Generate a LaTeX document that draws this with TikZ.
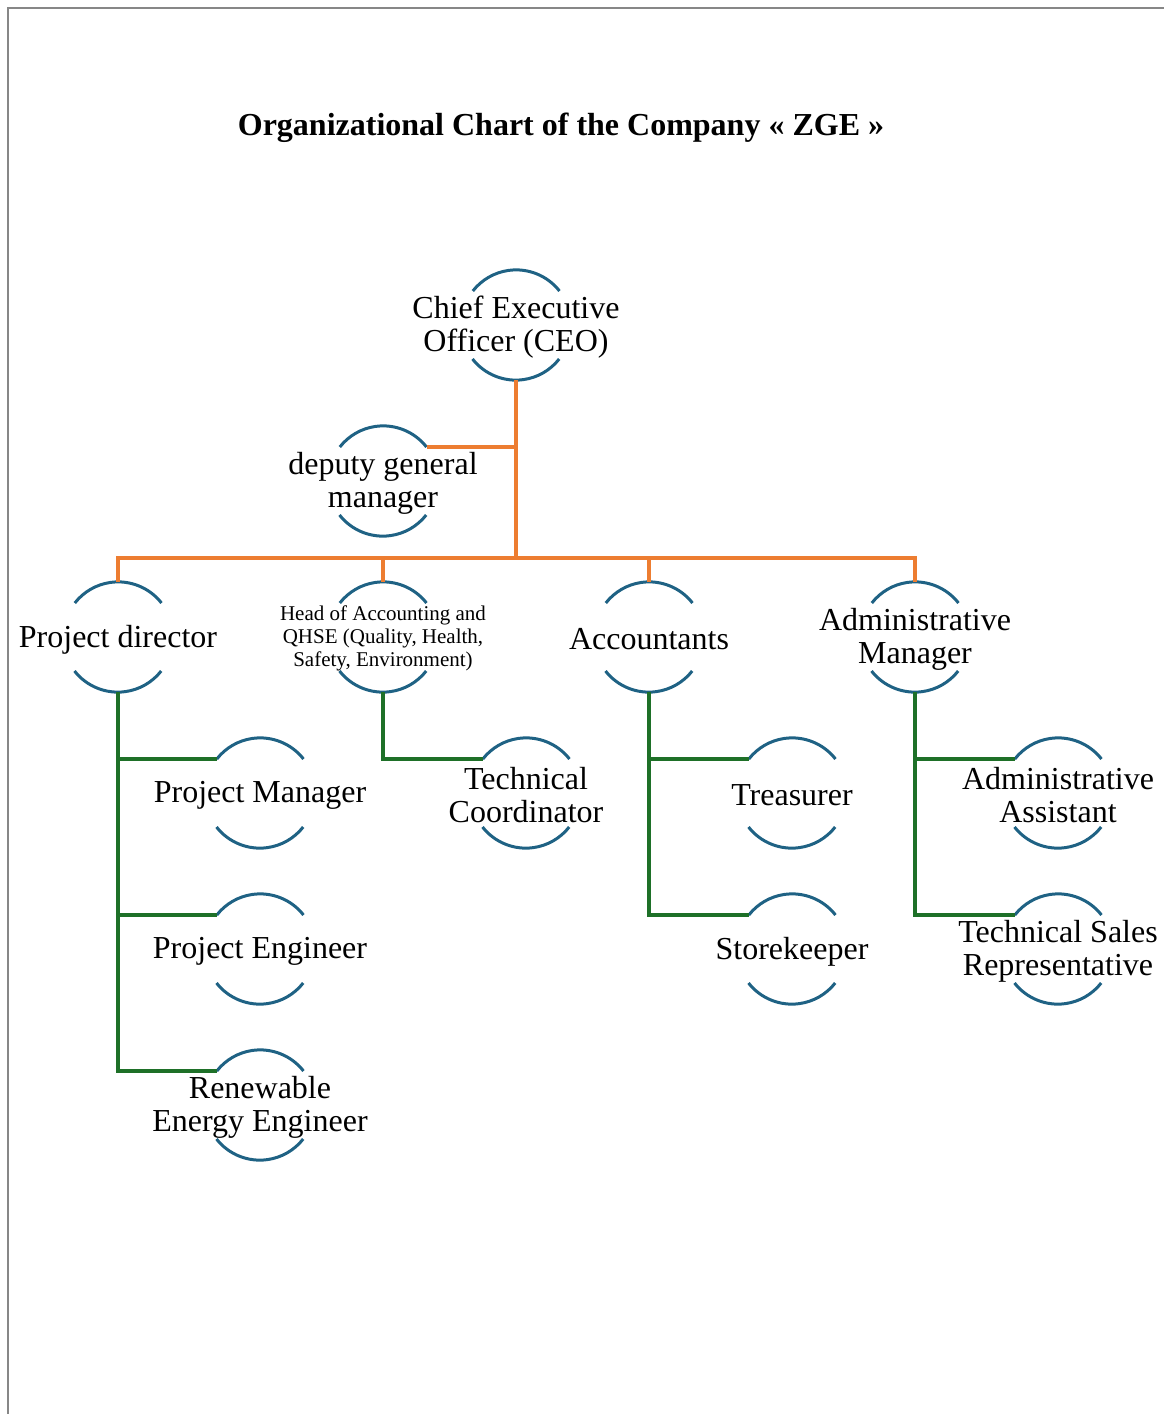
\documentclass[tikz,border=0pt]{standalone}
\usepackage{fontspec}
\setmainfont{Liberation Serif}
\definecolor{ringblue}{RGB}{31,98,132}
\definecolor{orgorange}{RGB}{237,125,49}
\definecolor{orggreen}{RGB}{30,112,40}
\definecolor{framegray}{RGB}{135,135,135}
\tikzset{
  ring/.style={circle, minimum size=110pt, inner sep=0pt},
  arcst/.style={draw=ringblue, line width=3pt},
  bigtxt/.style={align=center, inner sep=0pt, yshift=-2.5pt, font=\fontsize{32}{33}\selectfont},
  smalltxt/.style={align=center, inner sep=0pt, yshift=-1.5pt, font=\fontsize{21}{23}\selectfont},
  topline/.style={draw=orgorange, line width=3.2pt},
  subline/.style={draw=orggreen, line width=3.2pt},
}
\newcommand\orgunit[4][bigtxt]{%
  \node[ring] (#2) at (#3) {};
  \node[#1] (#2-t) at (#2) {#4};
  \draw[arcst] (#2.38) arc[start angle=38,end angle=142,radius=55pt];
  \draw[arcst] (#2.218) arc[start angle=218,end angle=322,radius=55pt];
}
\begin{document}
\begin{tikzpicture}[x=1pt,y=1pt]
\path[use as bounding box] (0,0) rectangle (1164,-1414);
\draw[framegray, line width=2pt] (7.5,-1414) -- (7.5,-7.5) -- (1164,-7.5);
\node[font=\bfseries\fontsize{32}{36}\selectfont, anchor=base] (title) at (561,-135) {Organizational Chart of the Company « ZGE »};

\coordinate (bus) at (516,-558);

\orgunit{ceo}{516,-325}{Chief Executive\\Officer (CEO)}
\orgunit{dgm}{383,-481}{deputy general\\manager}
\orgunit{pd}{118,-637}{Project director}
\orgunit[smalltxt]{hqa}{383,-637}{Head of Accounting and\\QHSE (Quality, Health,\\Safety, Environment)}
\orgunit{acc}{649,-637}{Accountants}
\orgunit{am}{915,-637}{Administrative\\Manager}
\orgunit{pm}{260,-793}{Project Manager}
\orgunit{pe}{260,-949}{Project Engineer}
\orgunit{ree}{260,-1105}{Renewable\\Energy Engineer}
\orgunit{tc}{526,-793}{Technical\\Coordinator}
\orgunit{tre}{792,-793}{Treasurer}
\orgunit{sto}{792,-949}{Storekeeper}
\orgunit{aa}{1058,-793}{Administrative\\Assistant}
\orgunit{tsr}{1058,-949}{Technical Sales\\Representative}

% orange connectors
\draw[topline] (ceo.south) -- (bus);
\draw[topline] (dgm.38) -- (dgm.38 -| ceo.south);
\draw[topline] (pd.north) -- (pd.north |- bus) -- (am.north |- bus) -- (am.north);
\draw[topline] (hqa.north) -- (hqa.north |- bus);
\draw[topline] (acc.north) -- (acc.north |- bus);

% green connectors
\draw[subline] (pd.south) |- (ree.142);
\draw[subline] (pd.south |- pm.142) -- (pm.142);
\draw[subline] (pd.south |- pe.142) -- (pe.142);
\draw[subline] (hqa.south) |- (tc.142);
\draw[subline] (acc.south) |- (sto.142);
\draw[subline] (acc.south |- tre.142) -- (tre.142);
\draw[subline] (am.south) |- (tsr.142);
\draw[subline] (am.south |- aa.142) -- (aa.142);
\end{tikzpicture}
\end{document}
